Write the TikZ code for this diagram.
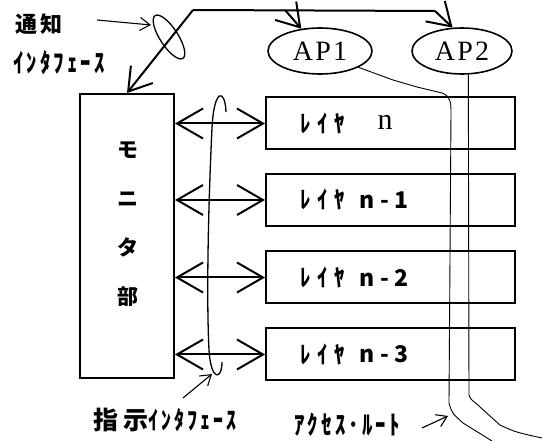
\documentclass[tikz,border=0pt]{standalone}
\usepackage{fontspec}
\usetikzlibrary{arrows.meta,shapes.geometric}
\newfontfamily\jp{Noto Sans CJK JP}
\newfontfamily\jpls{Noto Sans CJK JP}[LetterSpace=30,FakeStretch=0.85]
\newfontfamily\jpnum{Noto Sans CJK JP}[LetterSpace=22]
\newfontfamily\jpkana{Noto Sans CJK JP}[LetterSpace=12,FakeStretch=0.8]
\newfontfamily\apfont{Liberation Serif}[LetterSpace=8]
\newfontfamily\serifn{Liberation Serif}
\tikzset{
  box/.style={draw, line width=2pt, minimum width=249pt, minimum height=52pt, inner sep=0pt},
  monbox/.style={draw, line width=2pt, minimum width=94pt, minimum height=284pt, inner sep=0pt},
  apnode/.style={draw, ellipse, line width=1.6pt, minimum height=46pt, inner sep=0pt, font=\apfont\fontsize{28}{30}\selectfont},
  dbl/.style={line width=2pt, {Straight Barb[length=26pt,width=30pt]}-{Straight Barb[length=26pt,width=30pt]}},
  notif/.style={line width=2pt, -{Straight Barb[length=22pt,width=28pt]}},
  pointer/.style={line width=1.1pt, -{Straight Barb[length=10pt,width=13pt]}},
  route/.style={line width=0.9pt},
  iface/.style={line width=1.3pt},
  lbl/.style={inner sep=0pt, font=\jpkana\fontsize{26}{28}\selectfont\bfseries},
  laytxt/.style={inner sep=0pt, anchor=west, font=\jpls\fontsize{24}{26}\selectfont\bfseries},
  numtxt/.style={inner sep=0pt, font=\jpnum\fontsize{23}{24}\selectfont\bfseries}
}
\begin{document}
\begin{tikzpicture}[x=1pt,y=-1pt]
\useasboundingbox (0,0) rectangle (542,441);
% monitor
\node[monbox] (mon) at (127,236) {};
\node[inner sep=0pt, align=center, font=\jp\fontsize{21}{49}\selectfont\bfseries] (montxt) at (128,224) {モ\\ニ\\タ\\部};
% layers
\node[box] (L1) at (390.5,123.5) {};
\node[box] (L2) at (390.5,200) {};
\node[box] (L3) at (390.5,277.5) {};
\node[box] (L4) at (390.5,354.5) {};
\node[laytxt] (t1) at (300,123.5) {ﾚｲﾔ};
\node[laytxt] (t2) at (300,200) {ﾚｲﾔ};
\node[laytxt] (t3) at (300,277.5) {ﾚｲﾔ};
\node[laytxt] (t4) at (300,354.5) {ﾚｲﾔ};
\node[inner sep=0pt, font=\serifn\fontsize{30}{30}\selectfont] (n1) at (385,122) {n};
\node[numtxt] (n2) at (384,200) {n-1};
\node[numtxt] (n3) at (384,277.5) {n-2};
\node[numtxt] (n4) at (384,354.5) {n-3};
% AP
\node[apnode, minimum width=104pt] (AP1) at (320,51) {AP1};
\node[apnode, minimum width=100pt] (AP2) at (462,51) {AP2};
% double arrows
\foreach \L in {L1,L2,L3,L4} {
  \draw[dbl] (mon.east |- \L.west) -- (\L.west);
}
% notification lines
\coordinate (j1) at (193,10);
\coordinate (b1) at (285,10);
\coordinate (j2) at (435,11);
\draw[notif] (j1) -- (mon.north);
\draw[line width=2pt] (j1) -- (j2);
\draw[notif] (b1) -- (AP1.130);
\draw[notif] (j2) -- (AP2.112);
% notification interface ellipse
\node[draw, ellipse, line width=1.3pt, rotate=-57, minimum width=51pt, minimum height=18pt, inner sep=0pt] (nie) at (169,37) {};
% labels
\node[inner sep=0pt, font=\jp\fontsize{22}{24}\selectfont\bfseries] (tsuchi) at (39,24) {通\hspace{3pt}知};
\node[lbl] (nif) at (59,63) {ｲﾝﾀﾌｪｰｽ};
\coordinate (p1s) at (97,20);
\coordinate (p1e) at (151,25);
\draw[pointer] (p1s) -- (p1e);
% instruction interface
\draw[iface] (226,112) .. controls (225,88) and (214,88) .. (212,128)
  .. controls (209,190) and (206,290) .. (209,350)
  .. controls (211,382) and (222,380) .. (222,362);
\node[inner sep=0pt, font=\jpkana\fontsize{25}{28}\selectfont\bfseries] (shiji) at (165,420) {\jp 指\hspace{5pt}示\jpkana ｲﾝﾀﾌｪｰｽ};
\coordinate (p2s) at (183,398);
\coordinate (p2e) at (212,374);
\draw[pointer] (p2s) -- (p2e);
% access routes
\coordinate (r1e) at (492,441);
\coordinate (r2e) at (542,438);
\draw[route] (AP1.-23) -- (393,80) -- (417,87) -- (442,93)
  .. controls (450,96) and (451,102) .. (451,112) -- (449,403)
  .. controls (452,413) .. (463,423) -- (r1e);
\draw[route] (AP2.-75) -- (469,395)
  .. controls (470,400) and (474,401) .. (480,407) -- (500,425)
  .. controls (515,432) .. (r2e);
\node[lbl] (acc) at (347,425) {ｱｸｾｽ･ﾙｰﾄ};
\coordinate (p3s) at (422,428);
\coordinate (p3e) at (448,416);
\draw[pointer] (p3s) -- (p3e);
\end{tikzpicture}
\end{document}
